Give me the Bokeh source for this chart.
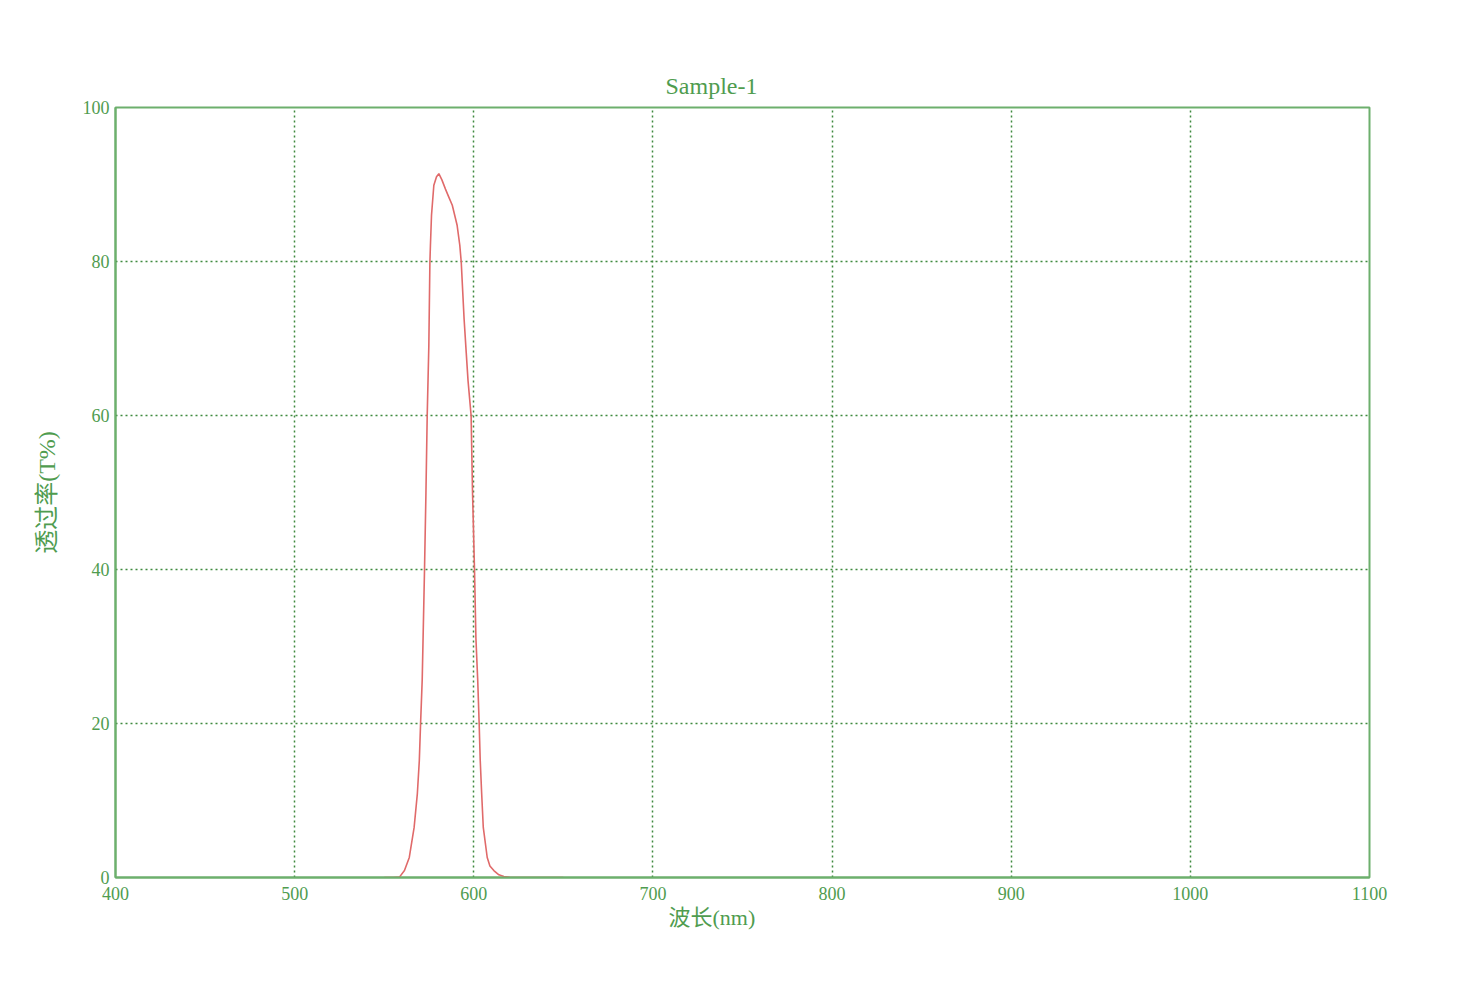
from bokeh.plotting import figure
from bokeh.models import Range1d, FixedTicker, Title
from bokeh.embed import file_html
from bokeh.resources import INLINE

# ---- data ----
wavelength = [550.0, 555.0, 558.5, 561.3, 564.0, 566.7, 568.5, 569.6, 570.3, 571.2,
              572.5, 573.3, 574.0, 574.9, 575.5, 575.8, 576.4, 577.7, 579.2, 580.5,
              582.2, 584.2, 586.0, 588.0, 590.7, 592.2, 593.0, 594.6, 595.8, 596.8,
              598.5, 599.3, 600.4, 601.2, 602.2, 603.0, 603.6, 604.4, 605.3, 607.5,
              609.0, 611.2, 614.0, 616.8, 620.0, 630.0, 650.0]
transmittance = [0.0, 0.0, 0.05, 0.9, 2.6, 6.5, 10.9, 15.2, 20.0, 25.6,
                 40.0, 50.0, 60.0, 69.0, 79.9, 82.1, 86.0, 89.9, 91.0, 91.4,
                 90.6, 89.4, 88.4, 87.3, 84.7, 82.1, 79.9, 72.5, 68.1, 64.5,
                 60.0, 50.0, 40.0, 31.0, 25.6, 20.0, 15.2, 10.9, 6.5, 2.6,
                 1.5, 0.9, 0.35, 0.13, 0.03, 0.0, 0.0]

x_ticks = [400, 500, 600, 700, 800, 900, 1000, 1100]
y_ticks = [0, 20, 40, 60, 80, 100]

title_text = "Sample-1"
x_label = "波长(nm)"
y_label = "透过率(T%)"

GREEN_TEXT = "#4f9c4f"
GREEN_FRAME = "#6daf6d"
GREEN_GRID = "#3f8a3f"
RED = "#e06a6a"
FONT = "'Liberation Serif', 'Noto Sans CJK SC', serif"

p = figure(width=1439, height=968, output_backend="svg", toolbar_location=None,
           x_range=Range1d(400, 1100), y_range=Range1d(0, 100),
           min_border_left=115, min_border_right=70,
           min_border_top=107, min_border_bottom=91)
p.background_fill_color = "white"
p.border_fill_color = "white"
p.outline_line_color = GREEN_FRAME
p.outline_line_width = 2

# title (left aligned with offset so it sits where the reference has it)
p.title.text = title_text
p.title.align = "left"
p.title.offset = 550
p.title.text_color = GREEN_TEXT
p.title.text_font = FONT
p.title.text_font_size = "24px"
p.title.text_font_style = "normal"
p.title.standoff = 17

# axes
p.xaxis.ticker = FixedTicker(ticks=x_ticks)
p.yaxis.ticker = FixedTicker(ticks=y_ticks)
for ax in (p.xaxis, p.yaxis):
    ax.axis_line_color = GREEN_FRAME
    ax.axis_line_width = 2
    ax.major_tick_line_color = None
    ax.minor_tick_line_color = None
    ax.major_label_text_color = GREEN_TEXT
    ax.major_label_text_font = FONT
    ax.major_label_text_font_size = "18px"
p.xaxis.major_label_standoff = 3
p.yaxis.major_label_standoff = 0
p.yaxis.axis_label = y_label
p.yaxis.axis_label_text_color = GREEN_TEXT
p.yaxis.axis_label_text_font = FONT
p.yaxis.axis_label_text_font_size = "24px"
p.yaxis.axis_label_text_font_style = "normal"
p.yaxis.axis_label_standoff = 20

# x-axis label, placed below (shifted left like the reference)
p.add_layout(Title(text=x_label, align="left", offset=553, standoff=0,
                   text_color=GREEN_TEXT, text_font=FONT,
                   text_font_size="22px", text_font_style="normal"), "below")

# grid
for g in (p.xgrid, p.ygrid):
    g.grid_line_color = GREEN_GRID
    g.grid_line_dash = "2 3"
    g.grid_line_width = 1.5

# curve
p.line(wavelength, transmittance, line_color=RED, line_width=1.6)

open("out.html", "w").write(file_html(p, INLINE))
